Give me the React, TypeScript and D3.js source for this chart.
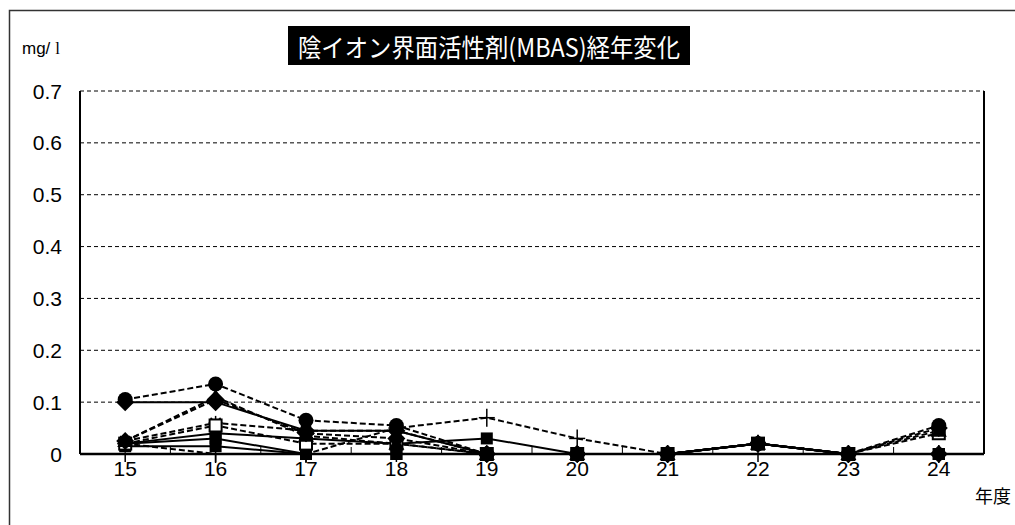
import React from 'react';
import * as d3 from 'd3';

// fiscal years (Heisei)
const years = ['15', '16', '17', '18', '19', '20', '21', '22', '23', '24'];
const yTicks = [0, 0.1, 0.2, 0.3, 0.4, 0.5, 0.6, 0.7];

// each sampling point (mg/l)
const siteA = [0.105, 0.135, 0.065, 0.055, 0, 0, 0, 0.02, 0, 0.055];
const siteB = [0.1, 0.1, 0.045, 0.045, 0, 0, 0, 0.02, 0, 0];
const siteC = [0.025, 0.105, 0.04, 0.03, 0, 0, 0, 0.02, 0, 0.05];
const siteD = [0.025, 0.11, 0.035, 0.02, 0, 0, 0, 0.02, 0, 0.045];
const siteE = [0.02, 0.055, 0.02, 0.02, 0, 0, 0, 0.02, 0, 0.04];
const siteF = [0.02, 0, 0, 0.05, 0.07, 0.03, 0, 0.02, 0, 0];
const siteG = [0.02, 0.04, 0.03, 0.02, 0.03, 0, 0, 0.02, 0, 0];
const siteH = [0.02, 0.03, 0, 0, 0, 0, 0, 0.02, 0, 0];
const siteI = [0.015, 0.015, 0, 0, 0, 0, 0, 0.02, 0, 0];
const siteJ = [0.025, 0.06, 0.045, 0.045, 0, 0, 0, 0.02, 0, 0];

const series = [
  { values: siteJ, marker: 'star', dashed: true },
  { values: siteI, marker: 'square', dashed: false },
  { values: siteH, marker: 'square', dashed: false },
  { values: siteG, marker: 'square', dashed: false },
  { values: siteF, marker: 'plus', dashed: true },
  { values: siteE, marker: 'openSquare', dashed: true },
  { values: siteD, marker: 'triangle', dashed: true },
  { values: siteC, marker: 'diamond', dashed: true },
  { values: siteB, marker: 'diamond', dashed: false },
  { values: siteA, marker: 'circle', dashed: true },
];

const W = 1015;
const H = 525;
const margin = { top: 91, right: 31, bottom: 71, left: 80 };
const FONT = '"Liberation Sans", Arial, sans-serif';
const JP = '"Noto Sans CJK JP", sans-serif';

function Marker({ type, x, y }: { type: string; x: number; y: number }) {
  switch (type) {
    case 'circle':
      return <circle cx={x} cy={y} r={7.5} fill="#000" />;
    case 'diamond':
      return <path d={`M${x},${y - 9}L${x + 9},${y}L${x},${y + 9}L${x - 9},${y}Z`} fill="#000" />;
    case 'triangle':
      return <path d={`M${x},${y - 8}L${x + 8},${y + 6}L${x - 8},${y + 6}Z`} fill="#000" />;
    case 'openSquare':
      return <rect x={x - 6} y={y - 6} width={12} height={12} fill="#fff" stroke="#000" strokeWidth={2} />;
    case 'square':
      return <rect x={x - 6} y={y - 6} width={12} height={12} fill="#000" />;
    case 'plus':
      return (
        <g stroke="#000" strokeWidth={1.5}>
          <line x1={x - 8} x2={x + 8} y1={y} y2={y} />
          <line x1={x} x2={x} y1={y - 9} y2={y + 9} />
        </g>
      );
    default:
      return (
        <g stroke="#000" strokeWidth={1.5}>
          <line x1={x - 7} x2={x + 7} y1={y} y2={y} />
          <line x1={x} x2={x} y1={y - 7} y2={y + 7} />
          <line x1={x - 5} x2={x + 5} y1={y - 5} y2={y + 5} />
          <line x1={x - 5} x2={x + 5} y1={y + 5} y2={y - 5} />
        </g>
      );
  }
}

export default function App() {
  const x0 = margin.left;
  const x1 = W - margin.right;
  const yBottom = H - margin.bottom;

  const xScale = d3.scaleBand<string>().domain(years).range([x0, x1]);
  const cx = (yr: string) => (xScale(yr) as number) + xScale.bandwidth() / 2;
  const yScale = d3.scaleLinear().domain([0, 0.7]).range([yBottom, margin.top]);

  const line = d3
    .line<number>()
    .x((_d, i) => cx(years[i]))
    .y((d) => yScale(d));

  const boundaries = years.slice(1).map((yr) => xScale(yr) as number);

  return (
    <svg width={W} height={H} style={{ position: 'absolute', left: 0, top: 0, background: '#fff' }}>
      {/* outer frame */}
      <path d={`M9.5,${H + 2}V10.5H${W + 2}`} fill="none" stroke="#333" strokeWidth={1.5} />

      {/* title */}
      <rect x={288} y={26} width={402} height={39} fill="#000" />
      <text
        x={298}
        y={57}
        fill="#fff"
        fontSize={25}
        fontFamily={JP}
        textLength={382}
        lengthAdjust="spacingAndGlyphs"
      >
        陰イオン界面活性剤(MBAS)経年変化
      </text>

      <text x={22} y={54} fontSize={17} fontFamily={FONT} fill="#000">
        mg/
        <tspan dx={5} fontFamily='"Liberation Serif", serif'>l</tspan>
      </text>

      {/* grid */}
      {yTicks.filter((t) => t > 0).map((t) => (
        <line
          key={t}
          x1={x0}
          x2={x1}
          y1={yScale(t)}
          y2={yScale(t)}
          stroke="#000"
          strokeWidth={1}
          strokeDasharray="4,3"
        />
      ))}

      {/* y tick labels */}
      {yTicks.map((t) => (
        <text
          key={t}
          x={62}
          y={yScale(t) + 7.5}
          textAnchor="end"
          fontSize={21}
          fontFamily={FONT}
          fill="#000"
        >
          {t === 0 ? '0' : t.toFixed(1)}
        </text>
      ))}

      {/* plot sides */}
      <line x1={x0} x2={x0} y1={margin.top} y2={yBottom} stroke="#000" strokeWidth={2} />
      <line x1={x1} x2={x1} y1={margin.top} y2={yBottom} stroke="#000" strokeWidth={2} />

      {/* x ticks */}
      {boundaries.map((b) => (
        <line key={b} x1={b} x2={b} y1={yBottom} y2={yBottom - 7} stroke="#000" strokeWidth={1} />
      ))}
      {years.map((yr) => (
        <line key={yr} x1={cx(yr)} x2={cx(yr)} y1={yBottom} y2={yBottom + 8} stroke="#000" strokeWidth={1.5} />
      ))}

      {/* series lines */}
      {series.map((s, i) => (
        <path
          key={i}
          d={line(s.values) as string}
          fill="none"
          stroke="#000"
          strokeWidth={2}
          strokeDasharray={s.dashed ? '6,3' : undefined}
        />
      ))}

      <line x1={x0} x2={x1} y1={yBottom} y2={yBottom} stroke="#000" strokeWidth={2.5} />

      {/* markers */}
      {series.map((s, i) => (
        <g key={i}>
          {s.values.map((v, j) => (
            <Marker key={j} type={s.marker} x={cx(years[j])} y={yScale(v)} />
          ))}
        </g>
      ))}

      {/* x labels */}
      {years.map((yr) => (
        <text
          key={yr}
          x={cx(yr)}
          y={476}
          textAnchor="middle"
          fontSize={21}
          fontFamily={FONT}
          fill="#000"
        >
          {yr}
        </text>
      ))}

      <text x={975} y={503} fontSize={18} fontFamily={JP} fill="#000">
        年度
      </text>
    </svg>
  );
}
